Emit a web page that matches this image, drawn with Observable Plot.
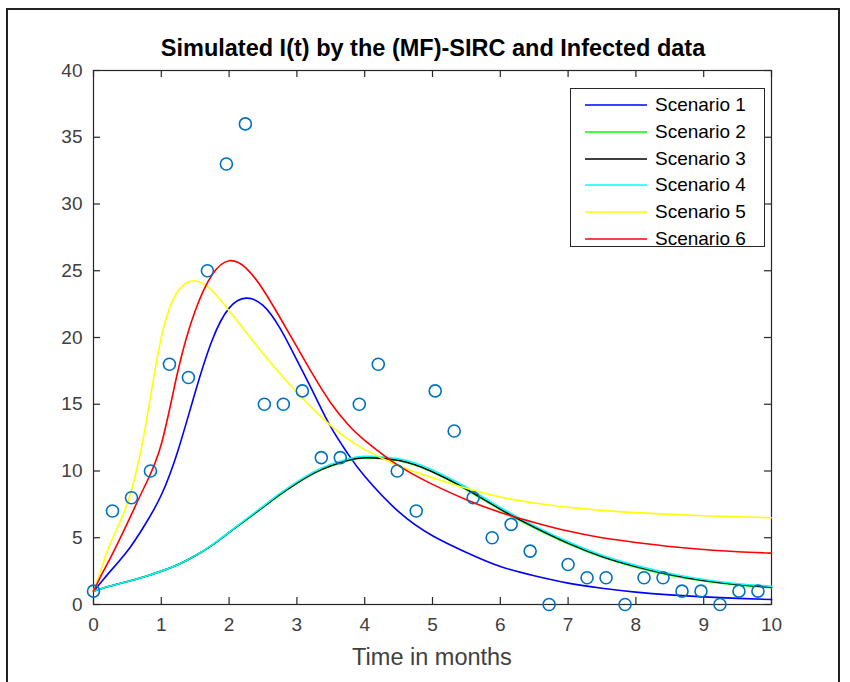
<!DOCTYPE html>
<html>
<head>
<meta charset="utf-8">
<script src="https://cdn.jsdelivr.net/npm/d3@7"></script>
<script src="https://cdn.jsdelivr.net/npm/@observablehq/plot@0.6"></script>
<style>
  html, body { margin: 0; padding: 0; background: #fff; overflow: hidden; }
  #fig { position: relative; width: 850px; height: 682px; font-family: "Liberation Sans", Arial, sans-serif; color: #262626; }
  #border { position: absolute; left: 6px; top: 8px; width: 830px; height: 700px; border: 2px solid #222; }
  #title { position: absolute; left: 0; width: 866px; top: 35px; text-align: center; font-weight: bold; font-size: 23.5px; color: #000; }
  #xlabel { position: absolute; left: 93px; width: 678px; top: 644px; text-align: center; font-size: 23.5px; color: #404040; }
  #legend { position: absolute; left: 570px; top: 88px; width: 193px; height: 157px; background: #fff; border: 1px solid #262626; }
  .row { position: absolute; left: 0; height: 20px; line-height: 20px; font-size: 19px; color: #000; }
  .row svg { position: absolute; left: 14px; top: 3px; }
  .row span { position: absolute; left: 84px; top: 0; white-space: nowrap; }
  #plot { position: absolute; left: 0; top: 0; }
</style>
</head>
<body>
<div id="fig">
  <div id="border"></div>
  <div id="plot"></div>
  <div id="title">Simulated I(t) by the (MF)-SIRC and Infected data</div>
  <div id="xlabel">Time in months</div>
  <div id="legend"></div>
</div>
<script>
// ---- data ----
const xTicks = [0,1,2,3,4,5,6,7,8,9,10];
const yTicks = [0,5,10,15,20,25,30,35,40];

// observed infected data (weekly, t = i * 0.28 months)
const dataT = [0,0.28,0.56,0.84,1.12,1.4,1.68,1.96,2.24,2.52,2.8,3.08,3.36,3.64,3.92,4.2,4.48,4.76,5.04,5.32,5.6,5.88,6.16,6.44,6.72,7.0,7.28,7.56,7.84,8.12,8.4,8.68,8.96,9.24,9.52,9.8];
const dataI = [1,7,8,10,18,17,25,33,36,15,15,16,11,11,15,18,10,7,16,13,8,5,6,4,0,3,2,2,0,2,2,1,1,0,1,1];

// simulated curves (sampled off the figure)
const tGrid = [0,0.125,0.25,0.5,0.75,1,1.25,1.5,1.75,2,2.25,2.5,2.75,3,3.25,3.5,3.75,4,4.5,5,5.5,6,6.5,7,7.5,8,8.5,9,9.5,10];
const scenario1 = [1,1.75,2.5,4.0,5.9,8.2,11.6,15.9,19.8,22.2,22.95,22.4,20.7,18.3,15.8,13.3,11.3,9.6,6.95,5.15,3.9,2.85,2.15,1.6,1.22,0.93,0.72,0.57,0.46,0.37];
const scenario2 = [1,1.2,1.38,1.72,2.08,2.5,3.0,3.65,4.45,5.38,6.32,7.27,8.22,9.07,9.82,10.37,10.77,10.97,10.77,9.92,8.6,7.1,5.75,4.55,3.56,2.8,2.2,1.76,1.46,1.26];
const scenario3 = [1,1.2,1.38,1.72,2.08,2.5,3.0,3.65,4.45,5.4,6.35,7.3,8.25,9.1,9.85,10.4,10.8,11.0,10.8,9.95,8.65,7.15,5.8,4.6,3.6,2.85,2.25,1.8,1.5,1.3];
const scenario4 = [1,1.2,1.38,1.72,2.08,2.5,3.0,3.66,4.47,5.43,6.4,7.36,8.32,9.18,9.94,10.5,10.9,11.1,10.92,10.08,8.78,7.27,5.91,4.7,3.69,2.93,2.32,1.87,1.56,1.36];
const scenario5 = [1,2.8,4.6,7.6,12.9,20.0,23.5,24.25,23.5,22.0,20.4,18.8,17.3,15.9,14.6,13.4,12.4,11.6,10.4,9.5,8.7,8.05,7.6,7.28,7.05,6.88,6.75,6.65,6.57,6.5];
const scenario6 = [1,2.3,3.5,6.1,8.8,12.0,17.6,22.0,24.7,25.75,25.2,23.6,21.5,19.3,17.1,15.1,13.5,12.3,10.4,9.0,7.85,6.9,6.15,5.5,5.0,4.65,4.35,4.12,3.95,3.85];

const names = ["Scenario 1","Scenario 2","Scenario 3","Scenario 4","Scenario 5","Scenario 6"];
const colors = ["#0000ff","#00ff00","#000000","#00ffff","#ffff00","#ff0000"];
const series = [scenario1,scenario2,scenario3,scenario4,scenario5,scenario6];

// ---- build tables ----
const curveRows = [];
series.forEach((vals, k) => vals.forEach((v, i) => curveRows.push({t: tGrid[i], v, s: names[k]})));
const points = dataT.map((t, i) => ({t, v: dataI[i]}));

const W = 850, H = 682, mL = 93, mR = 79, mT = 70, mB = 78;
const plotH = H - mT - mB, plotW = W - mL - mR, tick = 7;
const axisColor = "#262626";

const chart = Plot.plot({
  width: W, height: H,
  marginLeft: mL, marginRight: mR, marginTop: mT, marginBottom: mB,
  style: {fontFamily: "'Liberation Sans', Arial, sans-serif", fontSize: "19px", color: "#404040", background: "transparent"},
  x: {domain: [0, 10]},
  y: {domain: [0, 40]},
  color: {domain: names, range: colors},
  marks: [
    Plot.frame({stroke: axisColor, strokeWidth: 1.2}),
    // inward tick marks (MATLAB style) on all four sides
    Plot.ruleX(xTicks, {x: d => d, stroke: axisColor, strokeWidth: 1.2, insetTop: plotH - tick}),
    Plot.ruleX(xTicks, {x: d => d, stroke: axisColor, strokeWidth: 1.2, insetBottom: plotH - tick}),
    Plot.ruleY(yTicks, {y: d => d, stroke: axisColor, strokeWidth: 1.2, insetRight: plotW - tick}),
    Plot.ruleY(yTicks, {y: d => d, stroke: axisColor, strokeWidth: 1.2, insetLeft: plotW - tick}),
    Plot.axisX(xTicks, {tickSize: 0, tickPadding: 13, label: null, fill: "#404040"}),
    Plot.axisY(yTicks, {tickSize: 0, tickPadding: 11, label: null, fill: "#404040"}),
    Plot.line(curveRows, {x: "t", y: "v", z: "s", stroke: "s", strokeWidth: 1.6, curve: "natural"}),
    Plot.dot(points, {x: "t", y: "v", r: 6, stroke: "#0072bd", strokeWidth: 1.6, fill: "none"})
  ]
});
document.getElementById("plot").appendChild(chart);

// legend
const leg = document.getElementById("legend");
names.forEach((n, i) => {
  const row = document.createElement("div");
  row.className = "row";
  row.style.top = (6 + i * 26.8) + "px";
  row.style.width = "190px";
  row.innerHTML = `<svg width="62" height="14"><line x1="0" x2="62" y1="7" y2="7" stroke="${colors[i]}" stroke-width="1.6"/></svg><span>${n}</span>`;
  leg.appendChild(row);
});
</script>
</body>
</html>
